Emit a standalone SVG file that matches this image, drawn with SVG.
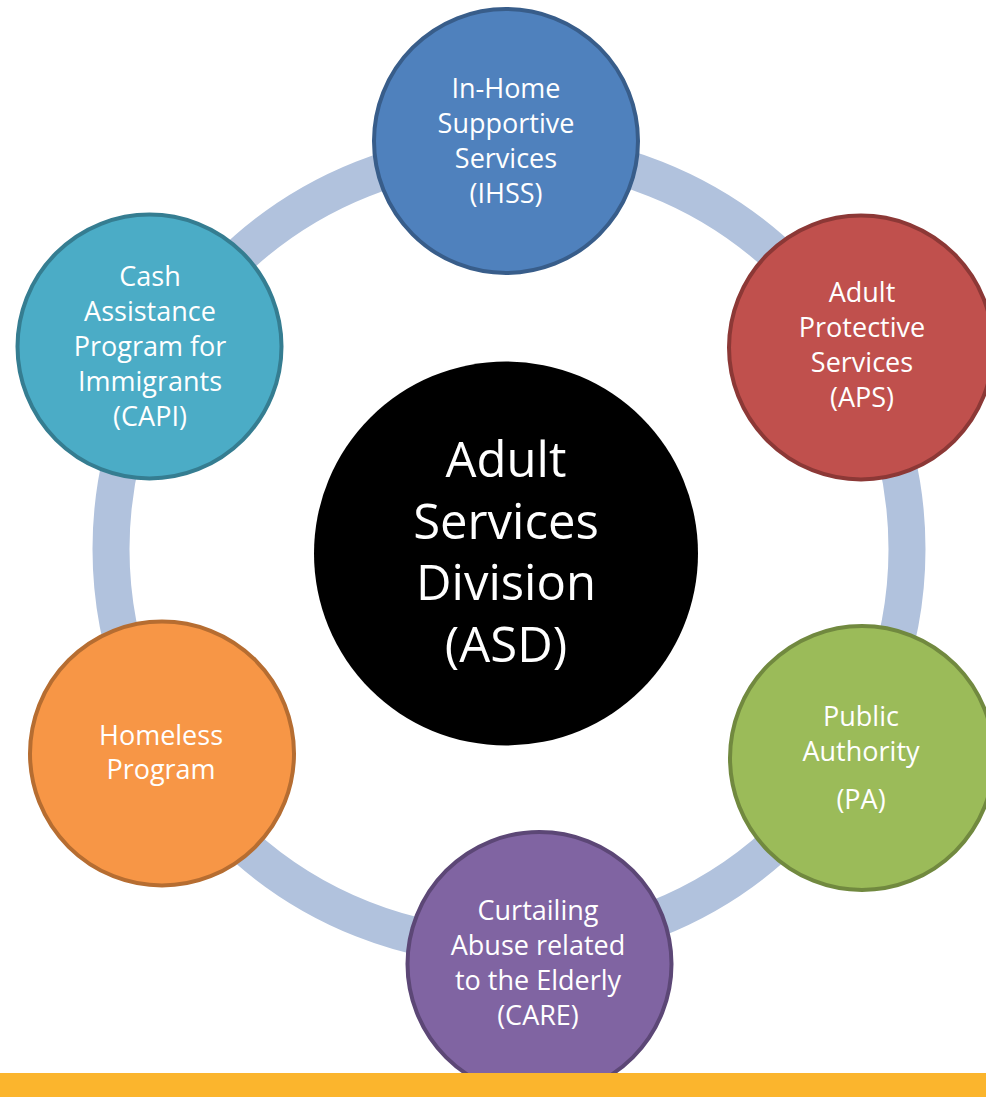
<svg xmlns="http://www.w3.org/2000/svg" width="986" height="1097" viewBox="0 0 986 1097">
<style>
.lbl{font-family:"Open Sans","Noto Sans","Liberation Sans",sans-serif;font-size:27px;fill:#ffffff;text-anchor:middle}
.big{font-family:"Open Sans","Noto Sans","Liberation Sans",sans-serif;font-size:49px;fill:#ffffff;text-anchor:middle}
.node{stroke-width:4}
</style>
<rect x="0" y="0" width="986" height="1097" fill="#ffffff"/>
<g id="connectors">
<circle cx="509" cy="549" r="398" fill="none" stroke="#B1C2DD" stroke-width="37"/>
</g>
<g id="center">
<circle cx="506" cy="553.5" r="192" fill="#000000"/>
<text class="big" x="506" y="477">Adult</text>
<text class="big" x="506" y="539">Services</text>
<text class="big" x="506" y="600">Division</text>
<text class="big" x="506" y="662">(ASD)</text>
</g>
<g id="ihss">
<circle class="node" cx="506" cy="141" r="132" fill="#4F81BD" stroke="#385D8A"/>
<text class="lbl" x="506" y="98">In-Home</text>
<text class="lbl" x="506" y="133">Supportive</text>
<text class="lbl" x="506" y="168">Services</text>
<text class="lbl" x="506" y="203">(IHSS)</text>
</g>
<g id="aps">
<circle class="node" cx="861" cy="347.5" r="132" fill="#C0504D" stroke="#8C3836"/>
<text class="lbl" x="862" y="302">Adult</text>
<text class="lbl" x="862" y="337">Protective</text>
<text class="lbl" x="862" y="372">Services</text>
<text class="lbl" x="862" y="407">(APS)</text>
</g>
<g id="pa">
<circle class="node" cx="862" cy="758" r="132" fill="#9BBB59" stroke="#71893F"/>
<text class="lbl" x="861" y="726">Public</text>
<text class="lbl" x="861" y="761">Authority</text>
<text class="lbl" x="861" y="809">(PA)</text>
</g>
<g id="care">
<circle class="node" cx="539.5" cy="964" r="132" fill="#8064A2" stroke="#5C4776"/>
<text class="lbl" x="538" y="920">Curtailing</text>
<text class="lbl" x="538" y="955">Abuse related</text>
<text class="lbl" x="538" y="990">to the Elderly</text>
<text class="lbl" x="538" y="1025">(CARE)</text>
</g>
<g id="homeless">
<circle class="node" cx="162" cy="753.5" r="132" fill="#F79646" stroke="#B66D31"/>
<text class="lbl" x="161" y="745">Homeless</text>
<text class="lbl" x="161" y="779">Program</text>
</g>
<g id="capi">
<circle class="node" cx="149.5" cy="346.5" r="132" fill="#4BACC6" stroke="#357D91"/>
<text class="lbl" x="150" y="286">Cash</text>
<text class="lbl" x="150" y="321">Assistance</text>
<text class="lbl" x="150" y="356">Program for</text>
<text class="lbl" x="150" y="391">Immigrants</text>
<text class="lbl" x="150" y="426">(CAPI)</text>
</g>
<rect id="bottom-bar" x="0" y="1073" width="986" height="24" fill="#FBB52D"/>
</svg>
